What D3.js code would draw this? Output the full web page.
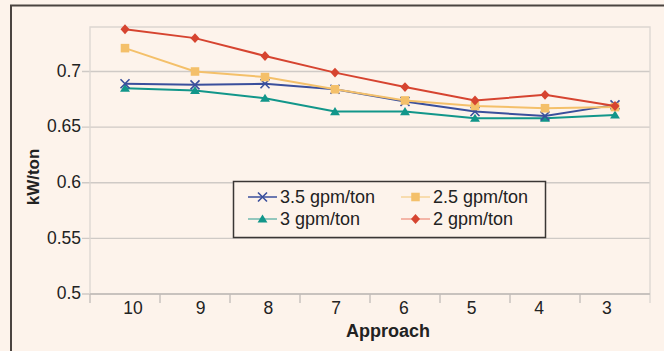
<!DOCTYPE html>
<html>
<head>
<meta charset="utf-8">
<script src="https://cdn.jsdelivr.net/npm/d3@7"></script>
<style>
  body { margin: 0; background: #fdf3eb; }
  svg { display: block; font-family: "Liberation Sans", Arial, sans-serif; }
</style>
</head>
<body>
<div id="chart"></div>
<script>
// data
var approach = ["10", "9", "8", "7", "6", "5", "4", "3"];
var gpm35 = [0.689, 0.688, 0.689, 0.684, 0.673, 0.664, 0.660, 0.670];
var gpm3 = [0.685, 0.683, 0.676, 0.664, 0.664, 0.658, 0.658, 0.661];
var gpm25 = [0.721, 0.700, 0.695, 0.684, 0.674, 0.669, 0.667, 0.668];
var gpm2 = [0.738, 0.730, 0.714, 0.699, 0.686, 0.674, 0.679, 0.669];
var yTicks = [0.5, 0.55, 0.6, 0.65, 0.7];

var series = [
  {name: "3.5 gpm/ton", values: gpm35, color: "#3a4f9c", legendColor: "#3a4f9c", shape: "x"},
  {name: "3 gpm/ton", values: gpm3, color: "#12968a", legendColor: "#6fb8ae", shape: "triangle"},
  {name: "2.5 gpm/ton", values: gpm25, color: "#f4c06a", legendColor: "#f6d49a", shape: "square"},
  {name: "2 gpm/ton", values: gpm2, color: "#d64430", legendColor: "#f0a090", shape: "diamond"}
];

var W = 664, H = 351;
var margin = {top: 27, right: 14, bottom: 57, left: 90},
    width = W - margin.left - margin.right,
    height = H - margin.top - margin.bottom;

var svg = d3.select("#chart")
  .append("svg")
  .attr("width", W)
  .attr("height", H);

// outer frame
svg.append("path")
  .attr("d", "M11," + (H + 5) + "V5.5H" + (W + 5))
  .attr("fill", "none")
  .attr("stroke", "#4a4440")
  .attr("stroke-width", 2);

var g = svg.append("g")
  .attr("transform", "translate(" + margin.left + "," + margin.top + ")");

var x = d3.scaleBand()
  .domain(approach)
  .range([0, width]);

var y = d3.scaleLinear()
  .domain([0.5, 0.74])
  .range([height, 0]);

// grid lines
g.append("g")
  .selectAll("line")
  .data(yTicks)
  .enter()
  .append("line")
    .attr("x1", -8)
    .attr("x2", width)
    .attr("y1", function(d) { return y(d); })
    .attr("y2", function(d) { return y(d); })
    .attr("stroke", "#cfcac6")
    .attr("stroke-width", 1.3);

// plot area border (top, left, right)
g.append("path")
  .attr("d", "M0," + height + "V0H" + width + "V" + (height + 9))
  .attr("fill", "none")
  .attr("stroke", "#dcd6d1")
  .attr("stroke-width", 1.3);

// y axis labels
g.append("g")
  .selectAll("text")
  .data(yTicks)
  .enter()
  .append("text")
    .attr("x", -9)
    .attr("y", function(d) { return y(d); })
    .attr("dy", "0.3em")
    .attr("text-anchor", "end")
    .style("font-size", "17.5px")
    .style("fill", "#222")
    .text(function(d) { return d; });

// x axis
var xAxis = g.append("g")
  .attr("transform", "translate(0," + height + ")");
xAxis.append("line")
  .attr("x1", 0).attr("x2", width)
  .attr("stroke", "#c2bcb8").attr("stroke-width", 1.3);
xAxis.selectAll(".tick")
  .data(approach)
  .enter()
  .append("line")
    .attr("x1", function(d) { return x(d); })
    .attr("x2", function(d) { return x(d); })
    .attr("y1", 0).attr("y2", 9)
    .attr("stroke", "#c2bcb8").attr("stroke-width", 1.3);
xAxis.selectAll("text")
  .data(approach)
  .enter()
  .append("text")
    .attr("x", function(d, i) { return x(d) + x.bandwidth() / 2 + 8 - i * 2.3; })
    .attr("y", 20)
    .attr("text-anchor", "middle")
    .style("font-size", "17.5px")
    .style("fill", "#222")
    .text(function(d) { return d; });

// axis titles
svg.append("text")
  .attr("transform", "translate(39,177) rotate(-90)")
  .attr("text-anchor", "middle")
  .style("font-size", "17px")
  .style("font-weight", "bold")
  .style("fill", "#222")
  .text("kW/ton");

svg.append("text")
  .attr("x", 388)
  .attr("y", 337)
  .attr("text-anchor", "middle")
  .style("font-size", "18px")
  .style("font-weight", "bold")
  .style("fill", "#222")
  .text("Approach");

// marker drawing
function marker(sel, shape, color, s) {
  if (shape === "x") {
    sel.append("path")
      .attr("d", "M" + (-s) + "," + (-s) + "L" + s + "," + s + "M" + (-s) + "," + s + "L" + s + "," + (-s))
      .attr("stroke", color).attr("stroke-width", 1.6).attr("fill", "none");
  } else if (shape === "triangle") {
    sel.append("path")
      .attr("d", "M0," + (-s) + "L" + (s * 1.1) + "," + (s * 0.8) + "L" + (-s * 1.1) + "," + (s * 0.8) + "Z")
      .attr("fill", color);
  } else if (shape === "square") {
    sel.append("rect")
      .attr("x", -s * 0.95).attr("y", -s * 0.95)
      .attr("width", s * 1.9).attr("height", s * 1.9)
      .attr("fill", color);
  } else {
    sel.append("path")
      .attr("d", "M0," + (-s * 1.1) + "L" + s + ",0L0," + (s * 1.1) + "L" + (-s) + ",0Z")
      .attr("fill", color);
  }
}

var line = d3.line()
  .x(function(d, i) { return x(approach[i]) + x.bandwidth() / 2; })
  .y(function(d) { return y(d); });

var order = [1, 0, 2, 3];
order.forEach(function(k) {
  var s = series[k];
  g.append("path")
    .datum(s.values)
    .attr("d", line)
    .attr("fill", "none")
    .attr("stroke", s.color)
    .attr("stroke-width", 2);
  g.append("g")
    .selectAll("g")
    .data(s.values)
    .enter()
    .append("g")
      .attr("transform", function(d, i) {
        return "translate(" + (x(approach[i]) + x.bandwidth() / 2) + "," + y(d) + ")";
      })
      .each(function() { marker(d3.select(this), s.shape, s.color, 4.5); });
});

// legend
var legend = svg.append("g");
legend.append("rect")
  .attr("x", 233.5).attr("y", 181.5)
  .attr("width", 312).attr("height", 56)
  .attr("fill", "#fdf3eb")
  .attr("stroke", "#3a3634")
  .attr("stroke-width", 1.5);

var legPos = [
  {x: 248, y: 197}, {x: 248, y: 219},
  {x: 401, y: 197}, {x: 401, y: 219}
];
series.forEach(function(s, i) {
  var p = legPos[i];
  var item = legend.append("g").attr("transform", "translate(" + p.x + "," + p.y + ")");
  item.append("line")
    .attr("x1", 0).attr("x2", 29)
    .attr("stroke", s.legendColor).attr("stroke-width", 1.5);
  var m = item.append("g").attr("transform", "translate(14.5,0)");
  marker(m, s.shape, s.color, 4.5);
  item.append("text")
    .attr("x", 32)
    .attr("y", 0)
    .attr("dy", "0.36em")
    .style("font-size", "18px")
    .style("fill", "#222")
    .text(s.name);
});
</script>
</body>
</html>
